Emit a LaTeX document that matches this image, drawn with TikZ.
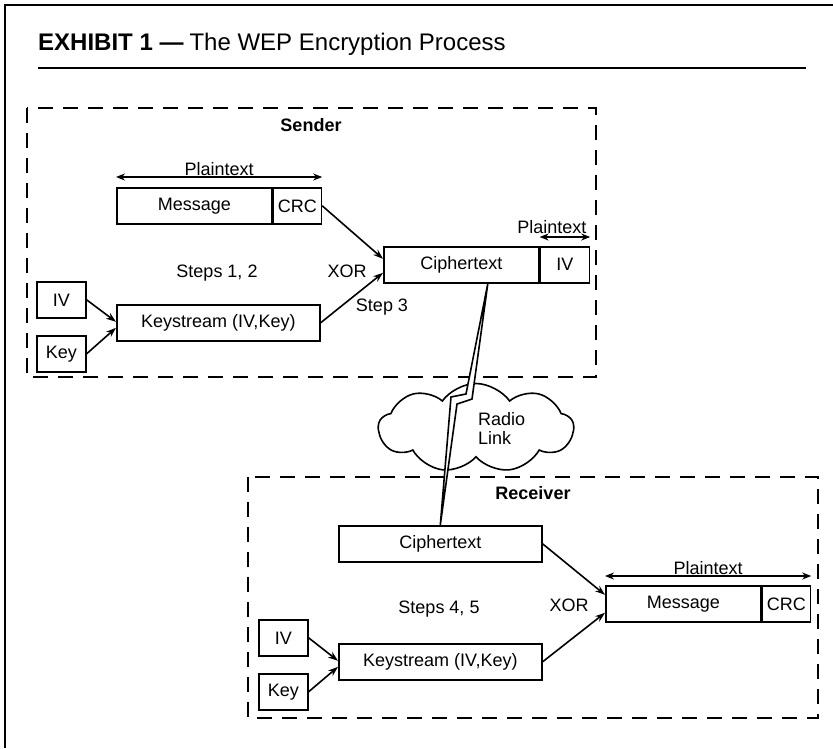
\documentclass[tikz,border=0pt]{standalone}
\usepackage{fontspec}
\setmainfont{Liberation Sans}
\setsansfont{Liberation Sans}
\usetikzlibrary{arrows.meta,shapes.symbols}

\begin{document}
\begin{tikzpicture}[x=1pt,y=-1pt,
    blk/.style={draw,line width=1.6pt,inner sep=0pt,minimum height=36pt,anchor=north west,font=\fontsize{18}{20}\selectfont},
    flow/.style={line width=1.6pt,-{Stealth[length=10pt,width=7pt]}},
    span/.style={line width=1.6pt,{Stealth[length=9pt,width=7pt]}-{Stealth[length=9pt,width=7pt]}},
    zone/.style={line width=1.8pt,dash pattern=on 15pt off 10pt},
    lbl/.style={font=\fontsize{18}{20}\selectfont,inner sep=1pt}]
  \useasboundingbox (0,0) rectangle (833,748);
  \draw[line width=2.2pt] (833,5) -- (5,5) -- (5,748);
  \node[anchor=base west,inner sep=0pt,font=\fontsize{24}{26}\selectfont] (title) at (38,50) {\textbf{EXHIBIT 1 —}\hspace{6pt}The WEP Encryption Process};
  \draw[line width=2.2pt] (38,68) -- (806,68);

  \draw[zone] (27,108) rectangle (596,377);
  \node[lbl,font=\fontsize{18}{20}\selectfont\bfseries] (sender) at (311,125) {Sender};
  \node[blk,minimum width=155pt] (smsg) at (116,187) {Message};
  \node[blk,minimum width=48pt] (scrc) at (smsg.north east) {CRC};
  \node[blk,minimum width=203pt] (sks) at (116,304) {Keystream (IV,Key)};
  \node[blk,minimum width=49pt] (siv) at (36,281) {IV};
  \node[blk,minimum width=49pt] (skey) at (36,335) {Key};
  \node[blk,minimum width=155pt] (sct) at (383,246) {Ciphertext};
  \node[blk,minimum width=49pt] (sctiv) at (sct.north east) {IV};
  \draw[span] ([yshift=10pt]smsg.north west) -- node[lbl,above] {Plaintext} ([yshift=10pt]scrc.north east);
  \draw[span] ([yshift=9pt]sctiv.north west) -- ([yshift=9pt]sctiv.north east) node[lbl,anchor=south east,inner sep=3pt] {Plaintext};
  \draw[flow] (scrc.east) -- ([yshift=6pt]sct.west);
  \draw[flow] (sks.east) -- ([yshift=-8pt]sct.west);
  \draw[flow] (siv.east) -- ([yshift=1pt]sks.west);
  \draw[flow] (skey.east) -- ([yshift=-5pt]sks.west);
  \node[lbl] (steps12) at (217,273) {Steps 1, 2};
  \node[lbl] (sxor) at (347,271) {XOR};
  \node[lbl] (step3) at (382,307) {Step 3};

  \draw[zone] (248,477) rectangle (818,718);
  \node[lbl,font=\fontsize{18}{20}\selectfont\bfseries] (receiver) at (533,493) {Receiver};
  \node[blk,minimum width=203pt] (rct) at (338,525) {Ciphertext};
  \node[blk,minimum width=155pt] (rmsg) at (605,585) {Message};
  \node[blk,minimum width=48pt] (rcrc) at (rmsg.north east) {CRC};
  \node[blk,minimum width=203pt] (rks) at (338,643) {Keystream (IV,Key)};
  \node[blk,minimum width=49pt] (riv) at (258,619) {IV};
  \node[blk,minimum width=49pt] (rkey) at (258,673) {Key};
  \draw[span] ([yshift=9pt]rmsg.north west) -- node[lbl,above] {Plaintext} ([yshift=9pt]rcrc.north east);
  \draw[flow] (rct.east) -- ([yshift=9pt]rmsg.west);
  \draw[flow] (rks.east) -- ([yshift=-9pt]rmsg.west);
  \draw[flow] (riv.east) -- ([yshift=1pt]rks.west);
  \draw[flow] (rkey.east) -- ([yshift=-5pt]rks.west);
  \node[lbl] (steps45) at (439,609) {Steps 4, 5};
  \node[lbl] (rxor) at (569,605) {XOR};

  \node[cloud,draw,line width=1.6pt,cloud puffs=9,cloud puff arc=110,aspect=2.2,minimum width=195pt,minimum height=89pt,inner sep=0pt,fill=white] (cloud) at (476,428) {};
  \node[lbl,anchor=west,align=left,font=\fontsize{18}{19}\selectfont] (radio) at (477,428) {Radio\\Link};
  \coordinate (btop) at ([xshift=26.5pt]sct.south);
  \coordinate (bbot) at (rct.north);
  \draw[line width=1.6pt,fill=white] (btop) -- (466,394) -- (451,397) -- (bbot) -- (457,404) -- (472,399) -- cycle;
\end{tikzpicture}
\end{document}
